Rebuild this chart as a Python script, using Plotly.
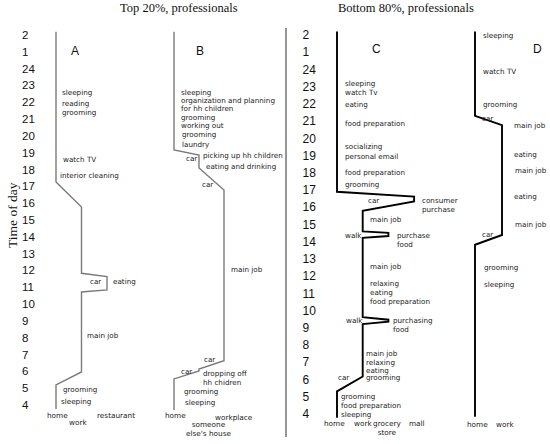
import plotly.graph_objects as go

W, H = 550, 444

# hours run from 4 (4 am) to 26 (2 am next day)
TICK_VALS = [4, 5, 6, 7, 8, 9, 10, 11, 12, 13, 14, 15, 16, 17, 18, 19, 20, 21, 22, 23, 24, 25, 26]
TICK_TEXT = ["4", "5", "6", "7", "8", "9", "10", "11", "12", "13", "14", "15", "16",
             "17", "18", "19", "20", "21", "22", "23", "24", "1", "2"]

# --- panel A: top 20%, professional ---
A_LOC = [0, 0, 1, 1, 2, 2, 1, 1, 0, 0]
A_HOUR = [26.2, 17.26, 15.77, 11.83, 11.63, 10.84, 10.72, 5.96, 5.19, 3.76]
A_ACTS = [("sleeping", 0.16, 22.61), ("reading", 0.16, 21.95), ("grooming", 0.16, 21.42),
          ("watch TV", 0.18, 18.57), ("interior cleaning", 0.09, 17.63),
          ("car", 1.27, 11.37), ("eating", 2.16, 11.37), ("main job", 1.14, 8.12),
          ("grooming", 0.2, 4.89), ("sleeping", 0.13, 4.2)]
A_PLACES = [("home", 0.04, 3.35), ("work", 0.87, 2.93), ("restaurant", 2.36, 3.35)]

# --- panel B ---
B_LOC = [0, 0, 1, 1, 2, 2, 1, 1, 0, 0]
B_HOUR = [26.2, 19.16, 18.86, 18.09, 16.78, 6.63, 6.14, 6.02, 5.55, 3.7]
B_ACTS = [("sleeping", 0.21, 22.61), ("organization and planning", 0.21, 22.12),
          ("for hh children", 0.21, 21.61), ("grooming", 0.21, 21.1),
          ("working out", 0.21, 20.62), ("grooming", 0.24, 20.07), ("laundry", 0.24, 19.5),
          ("car", 0.39, 18.63), ("picking up hh children", 1.08, 18.82),
          ("eating and drinking", 1.2, 18.21), ("car", 1.04, 17.14),
          ("main job", 2.19, 12.03), ("car", 1.13, 6.68), ("car", 0.2, 5.98),
          ("dropping off", 1.08, 5.88), ("hh chidren", 1.09, 5.35),
          ("grooming", 0.33, 4.81), ("sleeping", 0.37, 4.14)]
B_PLACES = [("home", 0.07, 3.35), ("someone<br>else's house", 1.36, 2.55), ("workplace", 2.39, 3.24)]

# --- panel C: bottom 80%, professional ---
C_LOC = [0, 0, 3, 3, 1, 1, 2, 2, 1, 1, 2, 2, 1, 1, 0, 0]
C_HOUR = [26.2, 16.9, 16.62, 16.33, 15.79, 14.6, 14.51, 14.33, 14.22,
          9.62, 9.47, 9.36, 9.22, 6.17, 5.31, 3.77]
C_ACTS = [("sleeping", 0.22, 23.17), ("watch Tv", 0.22, 22.69), ("eating", 0.22, 21.98),
          ("food preparation", 0.22, 20.89), ("socializing", 0.22, 19.55),
          ("personal email", 0.22, 18.95), ("food preparation", 0.22, 18.01),
          ("grooming", 0.22, 17.32), ("car", 1.12, 16.42),
          ("consumer<br>purchase", 3.23, 16.15), ("main job", 1.19, 15.27),
          ("walk", 0.25, 14.37), ("purchase<br>food", 2.26, 14.1),
          ("main job", 1.19, 12.55), ("relaxing", 1.19, 11.57), ("eating", 1.19, 11.06),
          ("food preparation", 1.19, 10.5), ("walk", 0.28, 9.45),
          ("purchasing<br>food", 2.1, 9.19), ("main job", 1.04, 7.51),
          ("relaxing", 1.04, 6.97), ("eating", 1.04, 6.52), ("grooming", 1.04, 6.13),
          ("car", -0.04, 6.09), ("grooming", 0.08, 5.02),
          ("food preparation", 0.08, 4.48), ("sleeping", 0.08, 3.97)]
C_PLACES = [("home", -0.08, 3.42), ("work", 1.0, 3.42), ("grocery<br>store", 1.93, 3.17),
            ("mall", 3.1, 3.42)]

# --- panel D ---
D_LOC = [0, 0, 1, 1, 0, 0]
D_HOUR = [26.2, 21.31, 20.77, 14.39, 13.82, 3.83]
D_ACTS = [("sleeping", 0.21, 25.95), ("watch TV", 0.21, 23.86), ("grooming", 0.21, 21.98),
          ("car", 0.19, 21.18), ("main job", 1.36, 20.73), ("eating", 1.38, 19.07),
          ("main job", 1.39, 18.15), ("eating", 1.38, 16.62), ("main job", 1.39, 14.98),
          ("car", 0.19, 14.41), ("grooming", 0.27, 12.49), ("sleeping", 0.27, 11.53)]
D_PLACES = [("home", 0.09, 3.39), ("work", 1.11, 3.39)]

# panel geometry: home line x (px), px per location, axis range, y axis, letter position
PANELS = [
    dict(name="A", loc=A_LOC, hour=A_HOUR, acts=A_ACTS, places=A_PLACES, x0=56, unit=25.5,
         rng=[-2, 3.5], y="y", color="#7a7a7a", width=1.4, letter=(0.76, 25.05)),
    dict(name="B", loc=B_LOC, hour=B_HOUR, acts=B_ACTS, places=B_PLACES, x0=174, unit=25,
         rng=[-2, 3.5], y="y", color="#7a7a7a", width=1.4, letter=(1.02, 25.05)),
    dict(name="C", loc=C_LOC, hour=C_HOUR, acts=C_ACTS, places=C_PLACES, x0=337, unit=25.7,
         rng=[-2, 3.5], y="y2", color="#000000", width=1.9, letter=(1.54, 25.2)),
    dict(name="D", loc=D_LOC, hour=D_HOUR, acts=D_ACTS, places=D_PLACES, x0=475, unit=27,
         rng=[-2, 2.5], y="y2", color="#000000", width=1.9, letter=(2.31, 25.2)),
]

LABEL_FONT = dict(family="DejaVu Sans", size=7.2, color="#222")

fig = go.Figure()
annotations = []
layout_axes = {}
for i, p in enumerate(PANELS, start=1):
    xname = "x" if i == 1 else f"x{i}"
    xkey = "xaxis" if i == 1 else f"xaxis{i}"
    fig.add_trace(go.Scatter(
        x=p["loc"], y=p["hour"], xaxis=xname, yaxis=p["y"], mode="lines",
        line=dict(color=p["color"], width=p["width"]), hoverinfo="skip", showlegend=False,
    ))
    lo, hi = p["rng"]
    layout_axes[xkey] = dict(
        range=p["rng"], visible=False, anchor=p["y"],
        domain=[(p["x0"] + lo * p["unit"]) / W, (p["x0"] + hi * p["unit"]) / W],
    )
    for text, lx, ly in p["acts"]:
        annotations.append(dict(text=text, x=lx, y=ly, xref=xname, yref=p["y"],
                                xanchor="left", yanchor="middle", showarrow=False,
                                font=LABEL_FONT, align="left"))
    for text, lx, ly in p["places"]:
        annotations.append(dict(text=text, x=lx, y=ly, xref=xname, yref=p["y"],
                                xanchor="center", yanchor="middle", showarrow=False,
                                font=dict(family="DejaVu Sans", size=7.3, color="#222")))
    annotations.append(dict(text=p["name"], x=p["letter"][0], y=p["letter"][1],
                            xref=xname, yref=p["y"], xanchor="center", showarrow=False,
                            font=dict(family="Liberation Sans", size=12, color="#111")))

annotations += [
    dict(text="Top 20%, professionals", x=178.7 / W, y=1 - 8.5 / H, xref="paper", yref="paper",
         xanchor="center", yanchor="middle", showarrow=False,
         font=dict(family="Liberation Serif", size=12.5, color="#111")),
    dict(text="Bottom 80%, professionals", x=406.3 / W, y=1 - 8.5 / H, xref="paper", yref="paper",
         xanchor="center", yanchor="middle", showarrow=False,
         font=dict(family="Liberation Serif", size=12.5, color="#111")),
    dict(text="Time of day", x=12 / W, y=1 - 215 / H, xref="paper", yref="paper",
         xanchor="center", yanchor="middle", showarrow=False, textangle=-90,
         font=dict(family="Liberation Serif", size=13.5, color="#111")),
]

tick_axis = dict(tickvals=TICK_VALS, ticktext=TICK_TEXT, side="right",
                 anchor="free", showgrid=False, zeroline=False, showline=False, ticks="")

fig.update_layout(
    width=W, height=H, margin=dict(l=0, r=0, t=0, b=0),
    paper_bgcolor="white", plot_bgcolor="white",
    annotations=annotations,
    # left: 16.82 px per hour, hour 4 at y=405; range reaches 2 so place labels stay visible
    yaxis=dict(tick_axis, range=[2, 27], domain=[0.0122, 0.959], position=21 / W,
               tickfont=dict(family="Liberation Sans", size=11.5, color="#111")),
    # right: 17.38 px per hour, hour 4 at y=417.8
    yaxis2=dict(tick_axis, range=[2.6, 27], domain=[0.0135, 0.9599], position=301.5 / W,
                tickfont=dict(family="Liberation Sans", size=12, color="#111")),
    shapes=[dict(type="line", xref="paper", yref="paper", x0=286 / W, x1=286 / W,
                 y0=1 - 437 / H, y1=1 - 28 / H, line=dict(color="#8a8a8a", width=1.8))],
    **layout_axes,
)

# the page's default body margin would push the figure 8px in
fig.write_html("out.html", config={"displayModeBar": False},
               post_script="document.body.style.margin='0';")
